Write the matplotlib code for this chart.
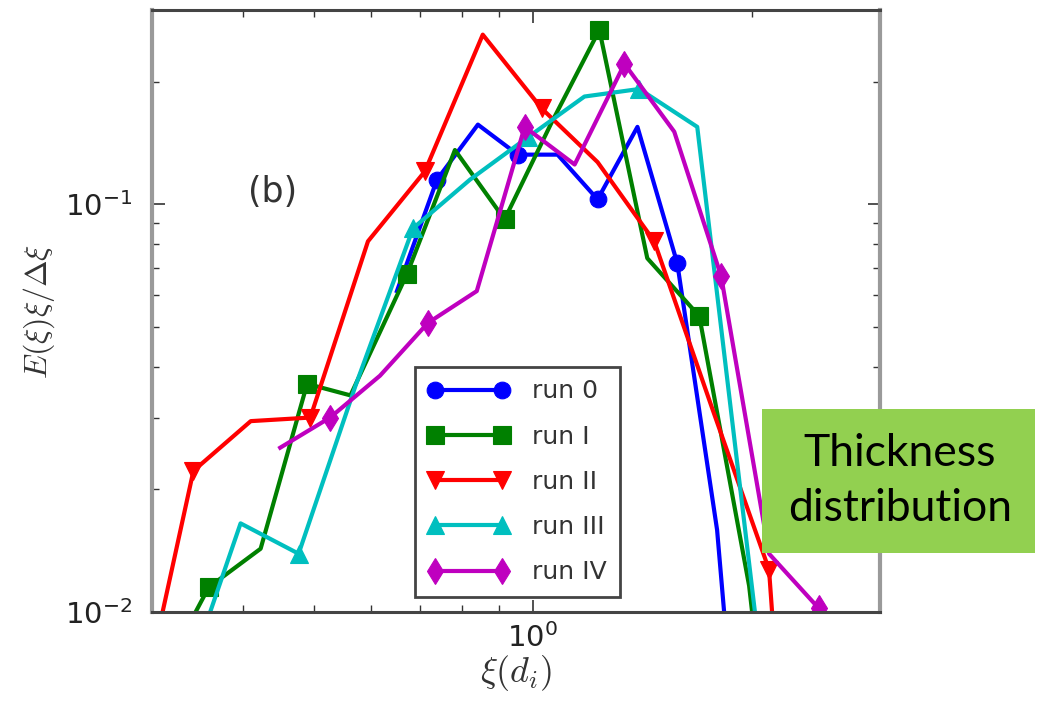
import matplotlib
matplotlib.use("Agg")
import matplotlib.pyplot as plt
from matplotlib.patches import Rectangle
from matplotlib.ticker import LogLocator, NullFormatter, LogFormatterSciNotation

plt.rcParams["mathtext.fontset"] = "cm"

# Thickness bins (in d_i) and E(xi) xi / d(xi) for each run
run0_x = [0.651, 0.739, 0.841, 0.954, 1.082, 1.228, 1.393, 1.580, 1.792, 2.033]
run0_y = [0.0613, 0.1151, 0.157, 0.1325, 0.1325, 0.1029, 0.155, 0.0717, 0.0159, 0.00115]

run1_x = [0.307, 0.359, 0.423, 0.490, 0.562, 0.672, 0.782, 0.915, 1.062, 1.235,
          1.437, 1.694, 1.983, 2.32]
run1_y = [0.0068, 0.0115, 0.0143, 0.0363, 0.034, 0.0675, 0.136, 0.0919, 0.159, 0.268,
          0.0738, 0.0532, 0.0116, 0.001]

run2_x = [0.285, 0.342, 0.410, 0.495, 0.594, 0.711, 0.854, 1.029, 1.228, 1.469,
          1.759, 2.112, 2.54]
run2_y = [0.0050, 0.0222, 0.0294, 0.0300, 0.0812, 0.1205, 0.261, 0.172, 0.127, 0.0812,
          0.0321, 0.0127, 0.00013]

run3_x = [0.330, 0.397, 0.477, 0.571, 0.685, 0.820, 0.984, 1.178, 1.401, 1.683, 2.05]
run3_y = [0.0063, 0.0165, 0.0139, 0.0359, 0.0874, 0.115, 0.146, 0.184, 0.192, 0.155, 0.008]

run4_x = [0.450, 0.527, 0.617, 0.718, 0.838, 0.975, 1.142, 1.337, 1.565, 1.815,
          2.112, 2.473]
run4_y = [0.0253, 0.0300, 0.038, 0.0512, 0.0613, 0.155, 0.1253, 0.2213, 0.1508, 0.0667,
          0.0139, 0.0102]

labels = ["run 0", "run I", "run II", "run III", "run IV"]

fig = plt.figure(figsize=(10.38, 7.06), dpi=100)
ax = fig.add_axes([152 / 1038, 94 / 706, 728 / 1038, 602 / 706])

series = [
    (run0_x, run0_y, (0, 0, 1), "o", 12, (1, 2)),
    (run1_x, run1_y, (0, 0.5, 0), "s", 13, (1, 2)),
    (run2_x, run2_y, (1, 0, 0), "v", 13, (1, 2)),
    (run3_x, run3_y, (0, 0.75, 0.75), "^", 13, (0, 2)),
    (run4_x, run4_y, (0.75, 0, 0.75), "d", 13, (1, 2)),
]
for (xs, ys, col, mk, ms, me), lab in zip(series, labels):
    ax.plot(xs, ys, color=col, lw=3.0, marker=mk, ms=ms, markevery=me,
            mfc=col, mec=col, mew=0.8, label=lab)

ax.set_xscale("log")
ax.set_yscale("log")
ax.set_xlim(0.3, 3.0)
ax.set_ylim(0.01, 0.3)

for axis in (ax.xaxis, ax.yaxis):
    axis.set_major_locator(LogLocator(base=10))
    axis.set_minor_locator(LogLocator(base=10, subs=range(2, 10)))
    axis.set_minor_formatter(NullFormatter())
    axis.set_major_formatter(LogFormatterSciNotation())

ax.tick_params(which="both", direction="in", top=True, right=True, colors="#333333")
ax.tick_params(which="major", length=9, width=1.2, labelsize=21, labelcolor="#222222")
ax.tick_params(which="minor", length=5, width=1.0)
ax.tick_params(axis="y", which="major", pad=14)
ax.tick_params(axis="x", which="major", pad=8)

for side in ("left", "right"):
    ax.spines[side].set_color("#9a9a9a")
    ax.spines[side].set_linewidth(3.0)
for side in ("top", "bottom"):
    ax.spines[side].set_color("#444444")
    ax.spines[side].set_linewidth(2.2)

ax.set_ylabel(r"$E(\xi)\xi/\Delta\xi$", fontsize=23, color="#333333", labelpad=6)
ax.set_xlabel(r"$\xi(d_i)$", fontsize=26, color="#333333", labelpad=0)

ax.text(0.166, 0.698, "(b)", transform=ax.transAxes, fontsize=25, color="#333333",
        ha="center", va="center")

leg = ax.legend(loc="lower left", bbox_to_anchor=(0.361, 0.025), borderaxespad=0,
                numpoints=2, fontsize=18, handlelength=3.3, handletextpad=0.9,
                labelspacing=0.85, borderpad=0.5, fancybox=False, framealpha=1)
leg.get_frame().set_edgecolor("#444444")
leg.get_frame().set_linewidth(2.0)
for t in leg.get_texts():
    t.set_color("#333333")

# green caption box overlaid on the figure
fig.add_artist(Rectangle((762 / 1038, 153 / 706), 273 / 1038, 144 / 706,
                         transform=fig.transFigure, facecolor="#92D050",
                         edgecolor="none", zorder=5))
fig.text(900 / 1038, 225 / 706, "Thickness\ndistribution", ha="center", va="center",
         fontsize=32, family="Lato", linespacing=1.45, color="black", zorder=6)

fig.savefig("out.png", dpi=100)
